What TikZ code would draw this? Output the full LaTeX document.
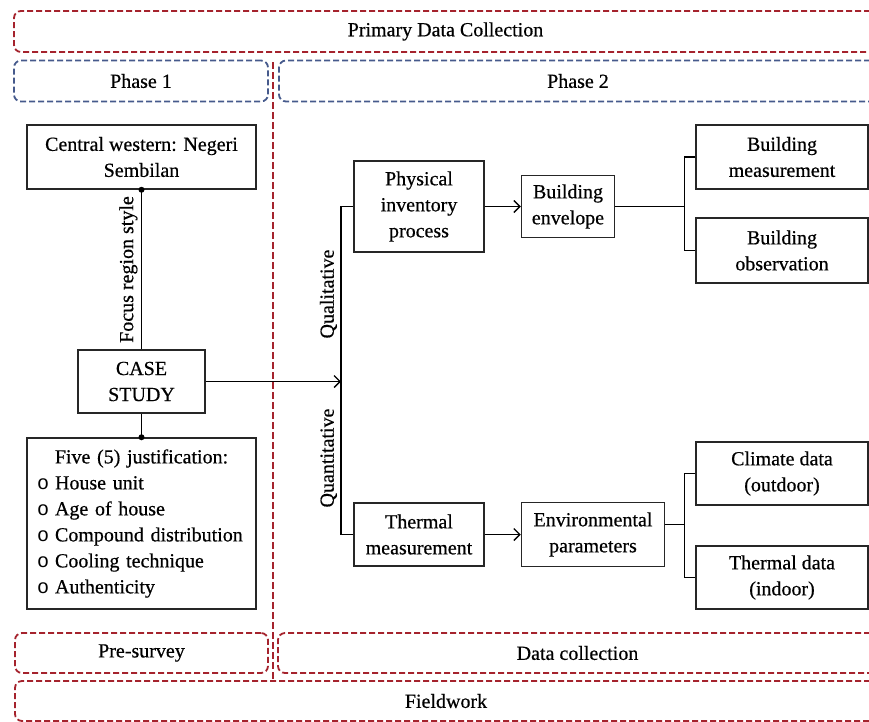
\documentclass[tikz,border=0pt]{standalone}
\usepackage{fontspec}
\setmainfont{Liberation Serif}[FakeBold=0.5]
\newfontfamily\bulletfont{Liberation Mono}
\usepackage{xcolor}
\usepackage{tikz}
\usetikzlibrary{positioning, arrows.meta}
\definecolor{framered}{RGB}{165,35,45}
\definecolor{frameblue}{RGB}{70,90,140}
\tikzset{
	>={Straight Barb[length=6pt,width=12pt]}, % open arrow heads
	box/.style={draw=black!85, line width=1.5pt, align=center, inner sep=2pt}, % solid boxes
	frame/.style={draw=framered, line width=1.8pt, dash pattern=on 6pt off 3pt, rounded corners=7pt, minimum height=41pt}, % dashed bands
	phaseframe/.style={frame, draw=frameblue}, % blue bands for the phases
	dot/.style={circle, fill=black, inner sep=0pt, minimum size=6pt}, % joint dots
	link/.style={line width=1.4pt}, % connectors
}
\newcommand{\itm}{\makebox[18pt][l]{\bulletfont o}}

\begin{document}
\begin{tikzpicture}[x=1pt, y=-1pt, font=\fontsize{20}{26}\selectfont]
			\useasboundingbox (0,0) rectangle (869,721);
			\clip (0,0) rectangle (869,721);

			% Bands
			\node[frame, minimum width=863pt] (primary) at (445.5,31.5) {Primary Data Collection};
			\node[phaseframe, minimum width=254pt] (phase1) at (141,81) {Phase 1};
			\node[phaseframe, minimum width=598pt] (phase2) at (578,81) {Phase 2};
			\node[frame, minimum width=253pt, minimum height=40pt] (presurvey) at (141.5,653) {Pre-survey};
			\node[frame, minimum width=599pt, minimum height=40pt] (datacol) at (577.5,653) {Data collection};
			\node[frame, minimum width=862pt, minimum height=40pt] (fieldwork) at (446,701) {Fieldwork};
			\draw[framered, line width=1.3pt, dash pattern=on 7pt off 3pt] (273,62) -- (273,681);

			% Phase 1
			\node[box, minimum width=229pt, minimum height=64pt] (central) at (141.5,157) {Central western: Negeri\\Sembilan};
			\node[box, minimum width=127pt, minimum height=63pt] (case) at (141.5,381.5) {CASE\\STUDY};
			\node[box, text width=209pt, inner xsep=10pt, minimum height=171pt, align=left] (just) at (141.5,523.5)
				{\makebox[209pt][c]{Five (5) justification:}\\ \itm House unit\\ \itm Age of house\\ \itm Compound distribution\\ \itm Cooling technique\\ \itm Authenticity};

			% Phase 2
			\node[box, minimum width=130pt, minimum height=91pt] (phys) at (419,206.5) {Physical\\inventory\\process};
			\node[box, minimum width=93pt, minimum height=62pt, right=36pt of phys] (envel) {Building\\envelope};
			\node[box, minimum width=172pt, minimum height=64pt] (bmeas) at (782,157) {Building\\measurement};
			\node[box, minimum width=172pt, minimum height=65pt] (bobs) at (782,250.5) {Building\\observation};
			\node[box, minimum width=130pt, minimum height=63pt] (thermal) at (419,534.5) {Thermal\\measurement};
			\node[box, minimum width=143pt, minimum height=64pt, right=36pt of thermal] (env) {Environmental\\parameters};
			\node[box, minimum width=172pt, minimum height=63pt] (climate) at (782,473.5) {Climate data\\(outdoor)};
			\node[box, minimum width=172pt, minimum height=63pt] (tdata) at (782,577.5) {Thermal data\\(indoor)};

			% Connectors
			\coordinate (split) at (341,381.5);
			\coordinate (envout) at ([yshift=10pt]env.east);
			\draw[link] (case.north) -- node[sloped, above] {Focus region style} (central.south) node[dot] {};
			\draw[link] (case.south) -- (just.north) node[dot] {};
			\draw[link, ->] (case.east) -- (split);
			\draw[link] (thermal.west) -- (split |- thermal.west) -- node[sloped, above] {Quantitative} (split)
				-- node[sloped, above] {Qualitative} (split |- phys.west) -- (phys.west);
			\draw[link, ->] (phys) -- (envel);
			\draw[link, ->] (thermal) -- (env);
			\draw[link] (bmeas.west) -- ++(-11,0) coordinate (b1) -- (b1 |- bobs.west) -- (bobs.west);
			\draw[link] (envel.east) -- (envel.east -| b1);
			\draw[link] (climate.west) -- ++(-11,0) coordinate (b2) -- (b2 |- tdata.west) -- (tdata.west);
			\draw[link] (envout) -- (envout -| b2);
		\end{tikzpicture}
\end{document}
